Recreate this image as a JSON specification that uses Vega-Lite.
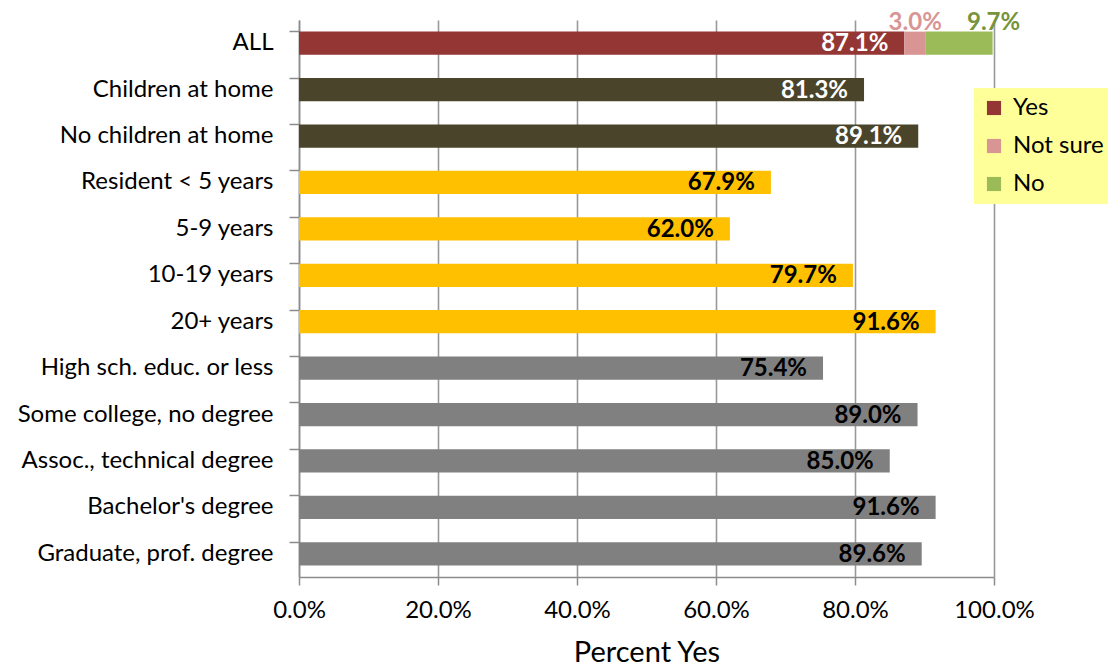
{
  "$schema": "https://vega.github.io/schema/vega-lite/v6.json",
  "width": 695,
  "height": 557,
  "autosize": "none",
  "padding": {"left": 299, "top": 20, "right": 114, "bottom": 92},
  "background": "white",
  "config": {
    "font": "Lato",
    "view": {"stroke": null}
  },
  "data": {
    "values": [
      {"category": "ALL", "series": "Yes", "order": 1, "value": 0.871},
      {"category": "ALL", "series": "Not sure", "order": 2, "value": 0.030},
      {"category": "ALL", "series": "No", "order": 3, "value": 0.097},
      {"category": "Children at home", "series": "children", "order": 1, "value": 0.813},
      {"category": "No children at home", "series": "children", "order": 1, "value": 0.891},
      {"category": "Resident < 5 years", "series": "residence", "order": 1, "value": 0.679},
      {"category": "5-9 years", "series": "residence", "order": 1, "value": 0.620},
      {"category": "10-19 years", "series": "residence", "order": 1, "value": 0.797},
      {"category": "20+ years", "series": "residence", "order": 1, "value": 0.916},
      {"category": "High sch. educ. or less ", "series": "education", "order": 1, "value": 0.754},
      {"category": "Some college, no degree", "series": "education", "order": 1, "value": 0.890},
      {"category": "Assoc., technical degree", "series": "education", "order": 1, "value": 0.850},
      {"category": "Bachelor's degree", "series": "education", "order": 1, "value": 0.916},
      {"category": "Graduate, prof. degree", "series": "education", "order": 1, "value": 0.896}
    ]
  },
  "transform": [
    {"stack": "value", "groupby": ["category"], "sort": [{"field": "order"}], "as": ["start", "end"]}
  ],
  "encoding": {
    "y": {
      "field": "category",
      "type": "nominal",
      "sort": ["ALL", "Children at home", "No children at home", "Resident < 5 years", "5-9 years", "10-19 years", "20+ years", "High sch. educ. or less ", "Some college, no degree", "Assoc., technical degree", "Bachelor's degree", "Graduate, prof. degree"],
      "scale": {"paddingInner": 0.5, "paddingOuter": 0.25},
      "axis": {
        "title": null,
        "domainColor": "#8C8C8C",
        "domainWidth": 1.5,
        "tickColor": "#8C8C8C",
        "tickWidth": 1.5,
        "tickSize": 10,
        "bandPosition": 0,
        "labelPadding": 16,
        "labelFontSize": 24,
        "labelLimit": 400,
        "labelColor": "#000000",
        "labelFont": "Lato"
      }
    }
  },
  "layer": [
    {
      "mark": {"type": "bar"},
      "encoding": {
        "x": {
          "field": "start",
          "type": "quantitative",
          "scale": {"domain": [0, 1], "nice": false},
          "axis": {
            "title": "Percent Yes",
            "titleFontSize": 29,
            "titleFontWeight": "normal",
            "titleColor": "#000000",
            "titlePadding": 16,
            "values": [0, 0.2, 0.4, 0.6, 0.8, 1],
            "format": ".1%",
            "labelFlush": false,
            "labelFontSize": 24,
            "labelColor": "#000000",
            "labelPadding": 13,
            "tickSize": 8,
            "tickColor": "#8C8C8C",
            "tickWidth": 1.5,
            "domainColor": "#8C8C8C",
            "domainWidth": 1.5,
            "grid": true,
            "gridColor": "#999999",
            "gridWidth": 1.6
          }
        },
        "x2": {"field": "end"},
        "color": {
          "field": "series",
          "type": "nominal",
          "scale": {
            "domain": ["Yes", "Not sure", "No", "children", "residence", "education"],
            "range": ["#943634", "#D99594", "#9BBB59", "#4A452A", "#FFC000", "#808080"]
          },
          "legend": {
            "title": null,
            "values": ["Yes", "Not sure", "No"],
            "orient": "none",
            "legendX": 675,
            "legendY": 68,
            "fillColor": "#FFFF99",
            "padding": 8,
            "symbolType": "square",
            "symbolSize": 200,
            "symbolStrokeWidth": 0,
            "labelFontSize": 24,
            "labelColor": "#000000",
            "labelOffset": 7,
            "rowPadding": 14,
            "labelLimit": 200
          }
        }
      }
    },
    {
      "transform": [{"filter": "datum.order == 1"}],
      "mark": {"type": "text", "align": "right", "baseline": "middle", "dx": -16, "dy": 1, "fontSize": 24, "fontWeight": "bold"},
      "encoding": {
        "x": {"field": "end", "type": "quantitative"},
        "text": {"field": "value", "type": "quantitative", "format": ".1%"},
        "color": {
          "condition": {"test": "datum.series == 'Yes' || datum.series == 'children'", "value": "#FFFFFF"},
          "value": "#000000"
        }
      }
    },
    {
      "transform": [{"filter": "datum.series == 'Not sure'"}],
      "mark": {"type": "text", "align": "center", "baseline": "alphabetic", "dx": -10, "dy": -13, "fontSize": 24, "fontWeight": "bold", "color": "#D99594"},
      "encoding": {
        "x": {"field": "end", "type": "quantitative"},
        "text": {"field": "value", "type": "quantitative", "format": ".1%"}
      }
    },
    {
      "transform": [{"filter": "datum.series == 'No'"}],
      "mark": {"type": "text", "align": "center", "baseline": "alphabetic", "dx": 1, "dy": -13, "fontSize": 24, "fontWeight": "bold", "color": "#77933C"},
      "encoding": {
        "x": {"field": "end", "type": "quantitative"},
        "text": {"field": "value", "type": "quantitative", "format": ".1%"}
      }
    }
  ]
}
